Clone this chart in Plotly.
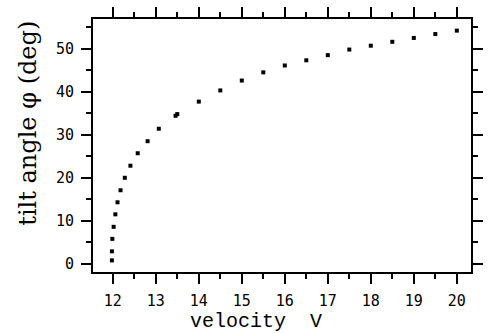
import plotly.graph_objects as go

velocity = [11.98, 11.98, 11.99, 12.02, 12.06, 12.11, 12.18, 12.28, 12.41, 12.58, 12.81,
            13.07, 13.46, 13.5, 14.0, 14.5, 15.0, 15.5, 16.0, 16.5, 17.0, 17.5, 18.0,
            18.5, 19.0, 19.5, 20.0]
tilt = [0.8, 2.9, 5.8, 8.6, 11.5, 14.3, 17.1, 20.0, 22.8, 25.7, 28.5,
        31.4, 34.4, 34.8, 37.7, 40.3, 42.6, 44.5, 46.1, 47.3, 48.5, 49.8, 50.7,
        51.6, 52.5, 53.4, 54.2]

x_ticks = list(range(12, 21))
y_ticks = [0, 10, 20, 30, 40, 50]

fig = go.Figure()
fig.add_trace(go.Scatter(x=velocity, y=tilt, mode="markers",
                         marker=dict(symbol="square", size=4, color="black", line=dict(width=0))))

axis_common = dict(showline=True, linecolor="black", linewidth=2, mirror="allticks",
                   ticks="outside", ticklen=10, tickwidth=1.5, tickcolor="black",
                   showgrid=False, zeroline=False,
                   tickfont=dict(family="DejaVu Sans Mono", size=15, color="black"))

fig.update_xaxes(range=[11.54, 20.33], tickvals=x_ticks, ticklabelstandoff=4,
                 minor=dict(dtick=0.5, tick0=0, ticks="outside", ticklen=5, tickwidth=1.5, tickcolor="black", showgrid=False),
                 **axis_common)
fig.update_yaxes(range=[-1.9, 56.9], tickvals=y_ticks, ticklabelstandoff=4,
                 minor=dict(dtick=5, tick0=0, ticks="outside", ticklen=5, tickwidth=1.5, tickcolor="black", showgrid=False),
                 **axis_common)

fig.add_annotation(text="velocity  V", xref="paper", yref="paper", x=0.431, y=-0.196,
                   xanchor="center", yanchor="middle", showarrow=False,
                   font=dict(family="Liberation Mono", size=20, color="black"))
fig.add_annotation(text="tilt angle φ (deg)", xref="paper", yref="paper", x=-0.172, y=0.59,
                   xanchor="center", yanchor="middle", textangle=-90, showarrow=False,
                   font=dict(family="DejaVu Serif", size=24, color="black"))

fig.update_layout(width=490, height=333, margin=dict(l=93, r=7, t=17, b=61),
                  plot_bgcolor="white", paper_bgcolor="white", showlegend=False)

fig.write_html("out.html")
